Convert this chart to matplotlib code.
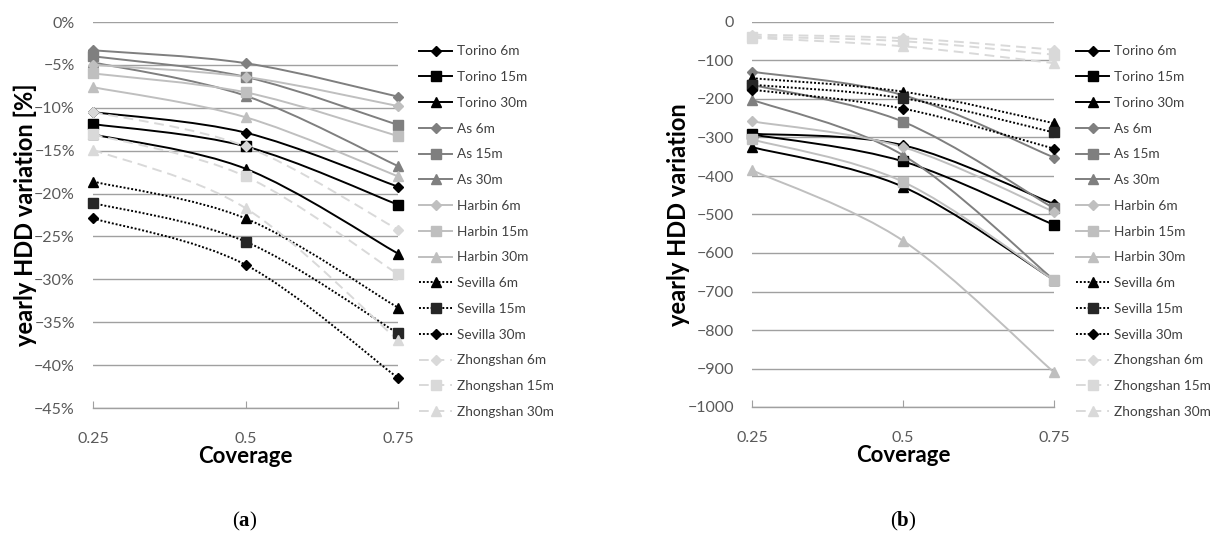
import numpy as np
import matplotlib
matplotlib.use('Agg')
import matplotlib.pyplot as plt
from matplotlib.path import Path
from matplotlib.patches import PathPatch
from matplotlib.lines import Line2D

plt.rcParams['font.family'] = ['Lato', 'DejaVu Sans']
plt.rcParams['mathtext.fontset'] = 'custom'
plt.rcParams['mathtext.bf'] = 'Liberation Serif:bold'
plt.rcParams['mathtext.rm'] = 'Liberation Serif'

# Дані
coverage = [0.25, 0.5, 0.75]
labels = ['Torino 6m', 'Torino 15m', 'Torino 30m',
          'As 6m', 'As 15m', 'As 30m',
          'Harbin 6m', 'Harbin 15m', 'Harbin 30m',
          'Sevilla 6m', 'Sevilla 15m', 'Sevilla 30m',
          'Zhongshan 6m', 'Zhongshan 15m', 'Zhongshan 30m']

# (a) відносна зміна HDD, %
pct_torino_6 = [-10.5, -12.9, -19.2]
pct_torino_15 = [-11.9, -14.5, -21.3]
pct_torino_30 = [-13.1, -17.1, -27.0]
pct_as_6 = [-3.3, -4.8, -8.7]
pct_as_15 = [-4.0, -6.4, -12.0]
pct_as_30 = [-4.7, -8.6, -16.8]
pct_harbin_6 = [-5.0, -6.4, -9.8]
pct_harbin_15 = [-6.0, -8.2, -13.3]
pct_harbin_30 = [-7.6, -11.1, -18.0]
pct_sevilla_6 = [-18.6, -22.9, -33.3]
pct_sevilla_15 = [-21.1, -25.6, -36.3]
pct_sevilla_30 = [-22.9, -28.3, -41.5]
pct_zhong_6 = [-10.5, -14.5, -24.2]
pct_zhong_15 = [-13.1, -18.0, -29.4]
pct_zhong_30 = [-14.9, -21.7, -37.1]

# (b) абсолютна зміна HDD
abs_torino_6 = [-290, -320, -473]
abs_torino_15 = [-292, -362, -527]
abs_torino_30 = [-325, -428, -670]
abs_as_6 = [-129, -190, -352]
abs_as_15 = [-163, -259, -484]
abs_as_30 = [-202, -346, -670]
abs_harbin_6 = [-258, -325, -493]
abs_harbin_15 = [-305, -415, -671]
abs_harbin_30 = [-385, -568, -910]
abs_sevilla_6 = [-146, -181, -263]
abs_sevilla_15 = [-163, -198, -287]
abs_sevilla_30 = [-176, -225, -329]
abs_zhong_6 = [-33, -42, -72]
abs_zhong_15 = [-38, -50, -85]
abs_zhong_30 = [-41, -63, -107]

pct_series = [pct_torino_6, pct_torino_15, pct_torino_30, pct_as_6, pct_as_15, pct_as_30,
              pct_harbin_6, pct_harbin_15, pct_harbin_30, pct_sevilla_6, pct_sevilla_15,
              pct_sevilla_30, pct_zhong_6, pct_zhong_15, pct_zhong_30]
abs_series = [abs_torino_6, abs_torino_15, abs_torino_30, abs_as_6, abs_as_15, abs_as_30,
              abs_harbin_6, abs_harbin_15, abs_harbin_30, abs_sevilla_6, abs_sevilla_15,
              abs_sevilla_30, abs_zhong_6, abs_zhong_15, abs_zhong_30]

# Стилі: (колір лінії, стиль лінії, маркер, колір маркера, розмір маркера)
DARK = '#7f7f7f'
LIGHT = '#bfbfbf'
PALE = '#d9d9d9'
styles = [
    ('black', '-', 'D', 'black', 5.5),
    ('black', '-', 's', 'black', 7),
    ('black', '-', '^', 'black', 7),
    (DARK, '-', 'D', DARK, 5.5),
    (DARK, '-', 's', DARK, 7),
    (DARK, '-', '^', DARK, 7),
    (LIGHT, '-', 'D', LIGHT, 5.5),
    (LIGHT, '-', 's', LIGHT, 7),
    (LIGHT, '-', '^', LIGHT, 7),
    ('black', (0, (1, 1)), '^', 'black', 7),
    ('black', (0, (1, 1)), 's', '#262626', 7),
    ('black', (0, (1, 1)), 'D', 'black', 5.5),
    (PALE, (0, (5, 3)), 'D', PALE, 5.5),
    (PALE, (0, (5, 3)), 's', PALE, 7),
    (PALE, (0, (5, 3)), '^', PALE, 7),
]


def smooth_path(x, y):
    # згладжена лінія як у Excel (кубічні криві Безьє)
    pts = np.column_stack([x, y]).astype(float)
    ext = np.vstack([pts[0], pts, pts[-1]])
    verts = [pts[0]]
    codes = [Path.MOVETO]
    for i in range(1, len(ext) - 2):
        p0, p1, p2, p3 = ext[i - 1], ext[i], ext[i + 1], ext[i + 2]
        verts += [p1 + (p2 - p0) / 6, p2 - (p3 - p1) / 6, p2]
        codes += [Path.CURVE4] * 3
    return Path(verts, codes)


def draw_panel(ax, series, yticks, ytick_labels, ylabel):
    for yt in yticks:
        ax.axhline(yt, color='#a0a0a0', lw=1.0, zorder=0)
    for vals, (lc, ls, mk, mc, ms) in zip(series, styles):
        patch = PathPatch(smooth_path(coverage, vals), fill=False, edgecolor=lc,
                          lw=1.4, linestyle=ls, zorder=2, capstyle='butt')
        ax.add_patch(patch)
        ax.plot(coverage, vals, linestyle='none', marker=mk, ms=ms, color=mc,
                mec=mc, zorder=3, clip_on=False)
    ax.set_xlim(0.25, 0.75)
    ax.set_ylim(yticks[-1], yticks[0])
    ax.set_yticks(yticks)
    ax.set_yticklabels(ytick_labels)
    ax.set_xticks(coverage)
    ax.set_xticklabels(['0.25', '0.5', '0.75'])
    for s in ['top', 'right', 'left']:
        ax.spines[s].set_visible(False)
    ax.spines['bottom'].set_color('#a0a0a0')
    ax.spines['bottom'].set_linewidth(1.0)
    ax.tick_params(axis='y', length=0, pad=13, labelsize=11.5, labelcolor='#595959')
    ax.tick_params(axis='x', direction='in', length=5, color='#a0a0a0', pad=17,
                   labelsize=11.5, labelcolor='#595959')
    ax.set_xlabel('Coverage', fontsize=16, fontweight='bold', labelpad=0)
    ax.set_ylabel(ylabel, fontsize=17, fontweight='bold', labelpad=-2)

    handles = [Line2D([], [], color=lc, linestyle=ls, lw=1.4, marker=mk, ms=ms,
                      mfc=mc, mec=mc) for (lc, ls, mk, mc, ms) in styles]
    return handles


W, H = 1213, 533
fig = plt.figure(figsize=(W / 100, H / 100), dpi=100)

ax1 = fig.add_axes([93 / W, 1 - 408 / H, (398 - 93) / W, (408 - 22) / H])
ax2 = fig.add_axes([752 / W, 1 - 407 / H, (1054 - 752) / W, (407 - 22) / H])

pct_ticks = list(range(0, -50, -5))
pct_labels = ['0%'] + ['\u2212%d%%' % (-t) for t in pct_ticks[1:]]
h1 = draw_panel(ax1, pct_series, pct_ticks, pct_labels, 'yearly HDD variation [%]')

abs_ticks = list(range(0, -1100, -100))
abs_labels = ['0'] + ['\u2212%d' % (-t) for t in abs_ticks[1:]]
h2 = draw_panel(ax2, abs_series, abs_ticks, abs_labels, 'yearly HDD variation')

leg_kw = dict(frameon=False, fontsize=9.8, labelspacing=1.01, handlelength=2.4,
              handletextpad=0.35, borderaxespad=0, numpoints=1, labelcolor='#404040')
fig.legend(h1, labels, loc='upper left', bbox_to_anchor=(414 / W, 1 - 40 / H), **leg_kw)
fig.legend(h2, labels, loc='upper left', bbox_to_anchor=(1071 / W, 1 - 40 / H), **leg_kw)

fig.text(245 / W, 1 - 521 / H, r'($\mathbf{a}$)', ha='center', va='center',
         fontsize=15, family='Liberation Serif')
fig.text(903 / W, 1 - 521 / H, r'($\mathbf{b}$)', ha='center', va='center',
         fontsize=15, family='Liberation Serif')

fig.savefig('out.png', dpi=100)
